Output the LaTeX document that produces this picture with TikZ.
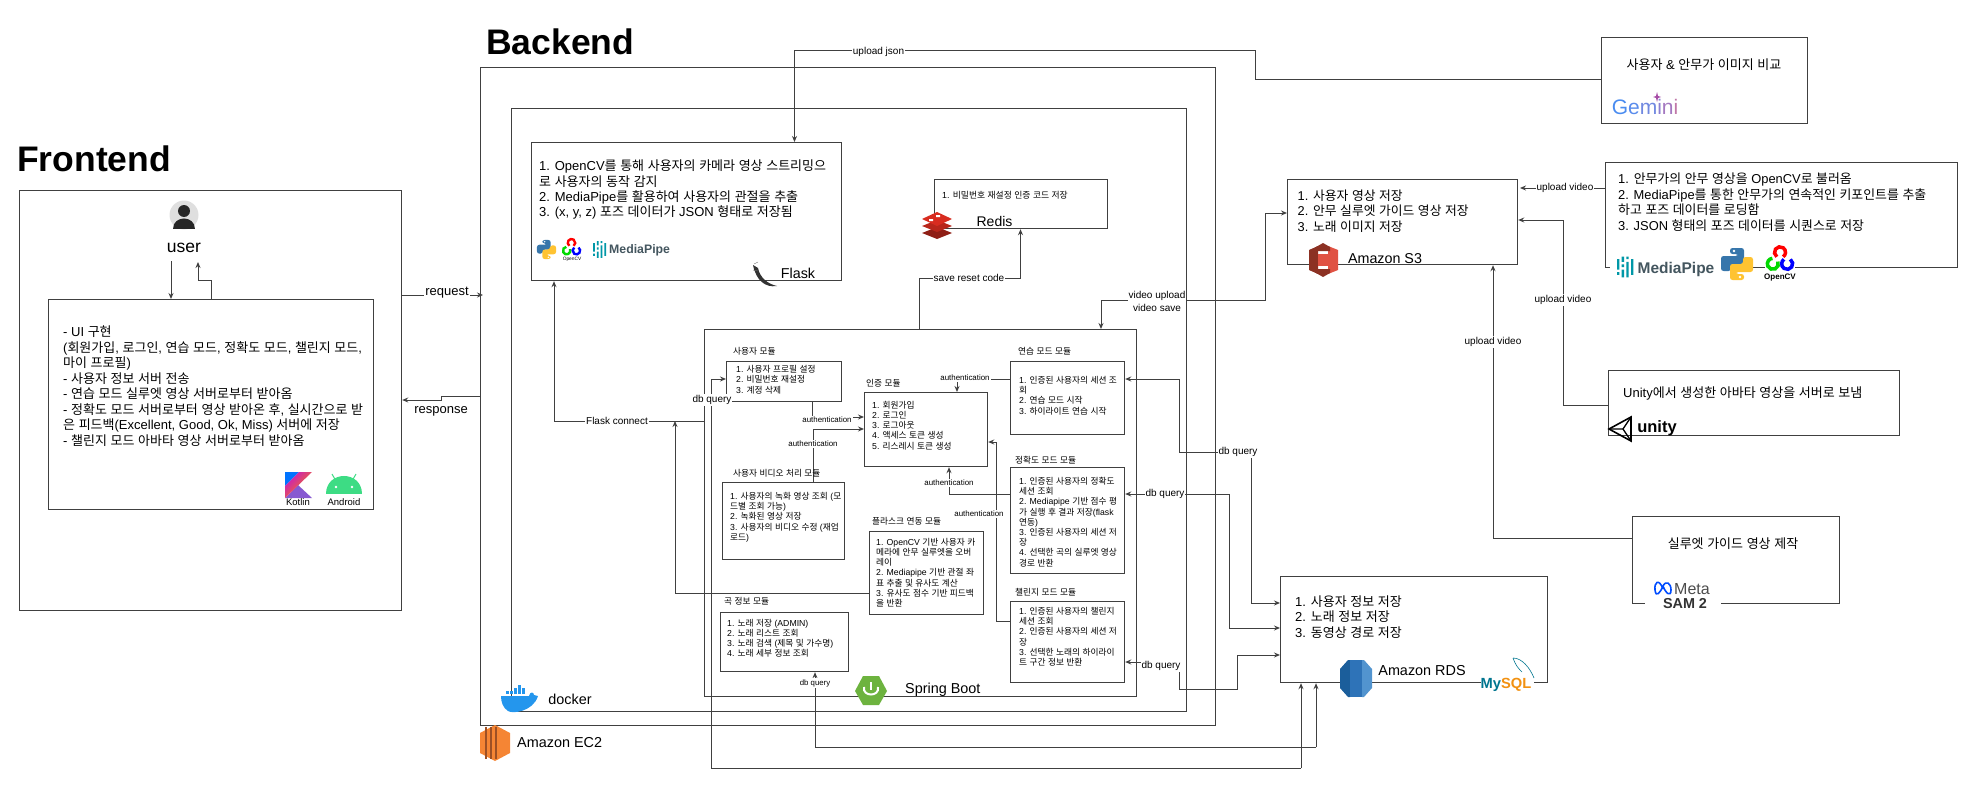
\documentclass[tikz,border=0pt]{standalone}
\usepackage{fontspec}
\usetikzlibrary{arrows.meta}
\setmainfont{Liberation Sans}
\newfontfamily\krf{Noto Sans CJK KR}
\XeTeXinterchartokenstate=1
\newXeTeXintercharclass\krc
\newcount\hgl
\hgl="AC00
\loop\XeTeXcharclass\hgl=\krc\ifnum\hgl<"D7A3 \advance\hgl by 1 \repeat
\XeTeXinterchartoks 0 \krc={\krf}
\XeTeXinterchartoks 4095 \krc={\krf}
\XeTeXinterchartoks \krc 0={\rmfamily}
\XeTeXinterchartoks \krc 4095={\rmfamily}
\definecolor{ln}{HTML}{404040}
\definecolor{pyb}{HTML}{3776AB}
\definecolor{pyy}{HTML}{FFC331}
\definecolor{mpt}{HTML}{0097A7}
\definecolor{mpg}{HTML}{44565F}
\definecolor{andr}{HTML}{3DDC84}
\definecolor{rd1}{HTML}{D82C20}
\definecolor{rd2}{HTML}{B8261B}
\definecolor{rd3}{HTML}{8F1F16}
\definecolor{dock}{HTML}{2496ED}
\definecolor{spr}{HTML}{6DB33F}
\definecolor{sa}{HTML}{E05243}
\definecolor{sb}{HTML}{8C3123}
\definecolor{eca}{HTML}{F58534}
\definecolor{ecb}{HTML}{9D5025}
\definecolor{rda}{HTML}{1B5E9B}
\definecolor{rdb}{HTML}{2E73B8}
\definecolor{rdc}{HTML}{5294CF}
\definecolor{myb}{HTML}{00758F}
\definecolor{myo}{HTML}{F29111}
\tikzset{
 x=1pt,y=-1pt,
 bx/.style={draw=ln,line width=1.2pt,fill=none,inner sep=0},
 conn/.style={draw=ln,line width=1pt},
 arr/.style={conn,-{Stealth[length=6pt,width=5pt]}},
 ml/.style 2 args={font=\fontsize{#1}{#2}\selectfont,align=left,anchor=north west,inner sep=0},
 lbl/.style={font=\fontsize{#1}{#1}\selectfont,fill=white,inner sep=1pt},
 lbl/.default=10,
 plain/.style={font=\fontsize{#1}{#1}\selectfont,inner sep=0},
 ocvw/.initial=1,
 pythonlogo/.pic={
  \fill[pyb,rounded corners=2.5] (-7,-16)--(7,-16)--(7,0)--(-6,0)--(-6,7)--(-16,7)--(-16,-8)--(1,-8)--(1,-10)--(-7,-10)--cycle;
  \fill[pyy,rounded corners=2.5] (7,16)--(-7,16)--(-7,0)--(6,0)--(6,-7)--(16,-7)--(16,8)--(-1,8)--(-1,10)--(7,10)--cycle;
  \fill[white] (-3,-13) circle[radius=1.3] (3,13) circle[radius=1.3];
 },
 opencvlogo/.pic={
  \draw[red,line width=3.2pt*\pgfkeysvalueof{/tikz/ocvw}] (0,-7)++(125:5) arc[start angle=125,end angle=415,radius=5];
  \draw[green!85!black,line width=3.2pt*\pgfkeysvalueof{/tikz/ocvw}] (-6.5,3.5)++(-25:5) arc[start angle=-25,end angle=265,radius=5];
  \draw[blue,line width=3.2pt*\pgfkeysvalueof{/tikz/ocvw}] (6.5,3.5)++(-55:5) arc[start angle=-55,end angle=235,radius=5];
 },
 mpbars/.pic={
  \fill[mpt] (0,-6) rectangle (1.8,2) (0,4) rectangle (1.8,6)
   (3.6,-8) rectangle (5.4,-4) (3.6,-2) rectangle (5.4,0) (3.6,2) rectangle (5.4,8)
   (7.2,-8) rectangle (9,-6) (7.2,-4) rectangle (9,8)
   (10.8,-6) rectangle (12.6,6);
 },
}
\begin{document}
\begin{tikzpicture}
\useasboundingbox (0,0) rectangle (1974,792);
% ---- titles
\node[plain=35.5,font=\fontsize{35.5}{36}\selectfont\bfseries,anchor=base west] (ttlF) at (17,171) {Frontend};
\node[plain=35.5,font=\fontsize{35.5}{36}\selectfont\bfseries,anchor=base west] (ttlB) at (486,55) {Backend};
% ---- frames
\node[bx,minimum width=382,minimum height=420,anchor=north west] (frontend) at (19,190) {};
\node[bx,minimum width=325,minimum height=210,anchor=north west] (ui) at (48,299) {};
\node[bx,minimum width=735,minimum height=658,anchor=north west] (ec2) at (480,67) {};
\node[bx,minimum width=675,minimum height=603,anchor=north west] (docker) at (511,108) {};
\node[bx,minimum width=432,minimum height=367,anchor=north west] (spring) at (704,329) {};
\node[bx,minimum width=309.5,minimum height=138,anchor=north west] (flask) at (531,142) {};
\node[bx,minimum width=173,minimum height=49,anchor=north west] (redis) at (934,179) {};
\node[bx,minimum width=230,minimum height=85,anchor=north west] (s3) at (1287,179) {};
\node[bx,minimum width=206,minimum height=86,anchor=north west] (gemini) at (1601,37) {};
\node[bx,minimum width=352,minimum height=105,anchor=north west] (teacher) at (1605,162) {};
\node[bx,minimum width=291,minimum height=65,anchor=north west] (unity) at (1608,370) {};
\node[bx,minimum width=207,minimum height=87,anchor=north west] (sam) at (1632,516) {};
\node[bx,minimum width=267,minimum height=106,anchor=north west] (rds) at (1280,576) {};
% ---- modules
\node[bx,minimum width=115,minimum height=40,anchor=north west] (mUser) at (726,361) {};
\node[bx,minimum width=123,minimum height=74,anchor=north west] (mAuth) at (864,392) {};
\node[bx,minimum width=122,minimum height=77,anchor=north west] (mVideo) at (722,482) {};
\node[bx,minimum width=114,minimum height=83,anchor=north west] (mFlask) at (869,531) {};
\node[bx,minimum width=128,minimum height=59,anchor=north west] (mSong) at (720,612) {};
\node[bx,minimum width=114,minimum height=73,anchor=north west] (mPrac) at (1010,361) {};
\node[bx,minimum width=114,minimum height=106,anchor=north west] (mAcc) at (1010,467) {};
\node[bx,minimum width=114,minimum height=81,anchor=north west] (mChal) at (1010,601) {};
% ---- frontend connectors
\coordinate (userBot) at (171,261);
\coordinate (userBot2) at (198,262);
\draw[arr] (userBot) -- (ui.north -| userBot);
\draw[arr] (211,299) -- (211,280) -- (198,280) -- (userBot2);
\draw[arr] (frontend.east |- 0,295) -- (483,295);
\draw[arr] (ec2.west |- 0,396) -- (441,396) -- (441,400) -- (frontend.east |- 0,400);
% ---- backend connectors
\draw[arr] (gemini.west |- 0,80) -- (1255.5,80) -- (1255.5,51) -- (794.5,51) -- (flask.north -| 794.5,0);
\draw[arr] (919.5,329) -- (919.5,278) -- (1020.5,278) -- (redis.south -| 1020.5,0);
\draw[arr] (1129,300) -- (1101,300) -- (spring.north -| 1101,0);
\draw[arr] (1186,300) -- (1265,300) -- (1265,213) -- (s3.west |- 0,213);
\draw[arr] (teacher.west |- 0,188) -- (1520,188);
\draw[arr] (unity.west |- 0,405) -- (1563,405) -- (1563,220) -- (s3.east |- 0,220);
\draw[arr] (sam.west |- 0,538) -- (1493,538) -- (s3.south -| 1493,0);
\draw[arr] (spring.west |- 0,421) -- (554,421) -- (flask.south -| 554,0);
\draw[arr] (mFlask.west |- 0,593) -- (675,593) -- (675,421);
\draw[arr] (1301,768) -- (rds.south -| 1301,0);
\draw[conn] (711,768) -- (1301,768);
\draw[arr] (711,768) -- (711,379) -- (mUser.west |- 0,379);
\draw[arr] (1316,747) -- (rds.south -| 1316,0);
\draw[conn] (1316,747) -- (815,747);
\draw[arr] (815,747) -- (mSong.south -| 815,0);
\draw[arr] (mUser.south -| 812,0) -- (812,417) -- (mAuth.west |- 0,417);
\draw[arr] (mVideo.north -| 813,0) -- (813,429) -- (mAuth.west |- 0,429);
\draw[arr] (mPrac.west |- 0,379) -- (957,379) -- (mAuth.north -| 957,0);
\draw[arr] (mAcc.west |- 0,494) -- (949,494) -- (mAuth.south -| 949,0);
\draw[arr] (mChal.west |- 0,621) -- (996,621) -- (996,442) -- (mAuth.east |- 0,442);
\draw[arr] (1251,452) -- (1179,452) -- (1179,379) -- (mPrac.east |- 0,379);
\draw[arr] (1251,452) -- (1251,603) -- (rds.west |- 0,603);
\draw[arr] (1185,494) -- (mAcc.east |- 0,494);
\draw[arr] (1185,494) -- (1229,494) -- (1229,628) -- (rds.west |- 0,628);
\draw[arr] (1150,662) -- (mChal.east |- 0,662);
\draw[arr] (1179,668) -- (1179,689) -- (1237,689) -- (1237,655) -- (rds.west |- 0,655);
% ---- connector labels
\node[lbl=13] (lReq) at (447,293) {request};
\node[lbl=13] (lRes) at (441,411) {response};
\node[lbl] (lJson) at (878.5,52) {upload json};
\node[lbl] (lReset) at (969,278) {save reset code};
\node[font=\fontsize{10}{13}\selectfont,fill=white,inner sep=1pt,align=center] (lVid) at (1157,301) {video upload\\video save};
\node[lbl] (lUp1) at (1565,188) {upload video};
\node[lbl] (lUp2) at (1563,300) {upload video};
\node[lbl] (lUp3) at (1493,342) {upload video};
\node[lbl] (lFc) at (617,421) {Flask connect};
\node[lbl=10] (lQ1) at (712,400) {db query};
\node[lbl=7.8] (lQ2) at (815,683) {db query};
\node[lbl=10] (lQ3) at (1238,452) {db query};
\node[lbl=10] (lQ4) at (1165,494) {db query};
\node[lbl=10] (lQ5) at (1161,666) {db query};
\node[lbl=7.9] (lA1) at (827,420) {authentication};
\node[lbl=7.9] (lA2) at (813,444) {authentication};
\node[lbl=7.9] (lA3) at (965,378) {authentication};
\node[lbl=7.9] (lA4) at (949,483) {authentication};
\node[lbl=7.9] (lA5) at (979,514) {authentication};
% ---- texts
\node[ml={13}{15.5}] (tUi) at (63,326) {- UI 구현\\(회원가입, 로그인, 연습 모드, 정확도 모드, 챌린지 모드,\\마이 프로필)\\- 사용자 정보 서버 전송\\- 연습 모드 실루엣 영상 서버로부터 받아옴\\- 정확도 모드 서버로부터 영상 받아온 후, 실시간으로 받\\은 피드백(Excellent, Good, Ok, Miss) 서버에 저장\\- 챌린지 모드 아바타 영상 서버로부터 받아옴};
\node[ml={13}{15.3}] (tFlask) at (539,160) {1. OpenCV를 통해 사용자의 카메라 영상 스트리밍으\\로 사용자의 동작 감지\\2. MediaPipe를 활용하여 사용자의 관절을 추출\\3. (x, y, z) 포즈 데이터가 JSON 형태로 저장됨};
\node[ml={8.8}{11}] (tRedis) at (942,191.5) {1. 비밀번호 재설정 인증 코드 저장};
\node[ml={12.8}{15.5}] (tS3) at (1297.5,189.5) {1. 사용자 영상 저장\\2. 안무 실루엣 가이드 영상 저장\\3. 노래 이미지 저장};
\node[font=\fontsize{13}{15}\selectfont,inner sep=0] (tGem) at (1704,65) {사용자 \& 안무가 이미지 비교};
\node[ml={12.9}{15.7}] (tTeach) at (1618,172.5) {1. 안무가의 안무 영상을 OpenCV로 불러옴\\2. MediaPipe를 통한 안무가의 연속적인 키포인트를 추출\\하고 포즈 데이터를 로딩함\\3. JSON 형태의 포즈 데이터를 시퀀스로 저장};
\node[ml={13}{15}] (tUnity) at (1623,386.5) {Unity에서 생성한 아바타 영상을 서버로 보냄};
\node[font=\fontsize{13}{15}\selectfont,inner sep=0] (tSam) at (1733,544) {실루엣 가이드 영상 제작};
\node[ml={13}{15.5}] (tRds) at (1295,595.5) {1. 사용자 정보 저장\\2. 노래 정보 저장\\3. 동영상 경로 저장};
% module titles
\node[ml={8.7}{11}] (hUser) at (733,347) {사용자 모듈};
\node[ml={8.7}{11}] (hAuth) at (866,379) {인증 모듈};
\node[ml={8.7}{11}] (hVideo) at (733,469) {사용자 비디오 처리 모듈};
\node[ml={8.7}{11}] (hFlask) at (872,517) {플라스크 연동 모듈};
\node[ml={8.7}{11}] (hSong) at (724,597) {곡 정보 모듈};
\node[ml={8.7}{11}] (hPrac) at (1018,347) {연습 모드 모듈};
\node[ml={8.7}{11}] (hAcc) at (1015,456) {정확도 모드 모듈};
\node[ml={8.7}{11}] (hChal) at (1015,588) {챌린지 모드 모듈};
% module bodies
\node[ml={8.7}{10.4}] (bUser) at (736,365) {1. 사용자 프로필 설정\\2. 비밀번호 재설정\\3. 계정 삭제};
\node[ml={8.7}{10.2}] (bAuth) at (872,401) {1. 회원가입\\2. 로그인\\3. 로그아웃\\4. 액세스 토큰 생성\\5. 리스레시 토큰 생성};
\node[ml={8.7}{10.3}] (bVideo) at (730,492) {1. 사용자의 녹화 영상 조회 (모\\드별 조회 가능)\\2. 녹화된 영상 저장\\3. 사용자의 비디오 수정 (재업\\로드)};
\node[ml={8.7}{10.2}] (bFlask) at (876,538) {1. OpenCV 기반 사용자 카\\메라에 안무 실루엣을 오버\\레이\\2. Mediapipe 기반 관절 좌\\표 추출 및 유사도 계산\\3. 유사도 점수 기반 피드백\\을 반환};
\node[ml={8.7}{10}] (bSong) at (727,619) {1. 노래 저장 (ADMIN)\\2. 노래 리스트 조회\\3. 노래 검색 (제목 및 가수명)\\4. 노래 세부 정보 조회};
\node[ml={8.7}{10.3}] (bPrac) at (1019,376) {1. 인증된 사용자의 세션 조\\회\\2. 연습 모드 시작\\3. 하이라이트 연습 시작};
\node[ml={8.7}{10.2}] (bAcc) at (1019,477) {1. 인증된 사용자의 정확도\\세션 조회\\2. Mediapipe 기반 점수 평\\가 실행 후 결과 저장(flask\\연동)\\3. 인증된 사용자의 세션 저\\장\\4. 선택한 곡의 실루엣 영상\\경로 반환};
\node[ml={8.7}{10.2}] (bChal) at (1019,607) {1. 인증된 사용자의 챌린지\\세션 조회\\2. 인증된 사용자의 세션 저\\장\\3. 선택한 노래의 하이라이\\트 구간 정보 반환};
% ---- service captions
\node[plain=17.5] (lUser) at (184,248) {user};
\node[plain=14.3] (lFlask) at (798,273) {Flask};
\node[plain=14] (lRedis) at (994.5,221) {Redis};
\node[plain=14.3] (lS3) at (1385,259) {Amazon S3};
\node[plain=14.4] (lRds) at (1422,671) {Amazon RDS};
\node[plain=14.4] (lDocker) at (570,699) {docker};
\node[plain=14.4,anchor=west] (lEc2) at (517,743) {Amazon EC2};
\node[plain=14.4,anchor=west] (lSpring) at (905,690) {Spring Boot};
% ---- user icon
\fill[gray!25] (184,215) circle[radius=14.5];
\fill[black!85] (184,211) circle[radius=6];
\fill[black!85] (173,229) .. controls (173,215) and (195,215) .. (195,229) -- cycle;
% ---- kotlin
\fill[blue!55!cyan] (285,472) -- (299,472) -- (285,486) -- cycle;
\fill[violet!55!blue!65!white] (298,485) -- (312,498) -- (285,498) -- cycle;
\shade[left color=magenta!50!violet!90!white,right color=orange,shading angle=45] (299,472) -- (312,472) -- (285,498) -- (285,486) -- cycle;
\node[plain=9.5] (lKot) at (298,502) {Kotlin};
% ---- android
\fill[andr] (326,494) .. controls (326,470) and (362,470) .. (362,494) -- cycle;
\draw[andr,line width=1pt] (332,474) -- (336,481) (356,474) -- (352,481);
\fill[white] (336,487) circle[radius=1.3] (352,487) circle[radius=1.3];
\node[plain=9.5] (lAnd) at (344,502) {Android};
% ---- flask logos
\pic[scale=0.6] at (546.5,249.5) {pythonlogo};
\pic[scale=0.75,ocvw=0.75] at (571.5,248) {opencvlogo};
\node[plain=4.8] (lCv1) at (572,259) {OpenCV};
\pic[scale=1.05] at (593,249.5) {mpbars};
\node[plain=12.3,text=mpg,font=\fontsize{12.3}{14}\selectfont\bfseries,anchor=west] (lMp1) at (609,250) {MediaPipe};
% flask horn
\fill[black!80] (753,265) .. controls (756,280) and (765,288) .. (777,286) .. controls (768,284) and (760,278) .. (758,268) -- cycle;
\draw[black!60] (754,264) -- (758,262) (753,270) -- (758,271);
% ---- redis
\fill[rd3] (922,233) -- (937,227) -- (952,233) -- (937,239) -- cycle;
\fill[rd2] (922,226) -- (937,220) -- (952,226) -- (937,232) -- cycle;
\fill[rd1] (922,219) -- (937,212) -- (952,219) -- (937,226) -- cycle;
\fill[white] (936,215) rectangle (940,217) (929,219) rectangle (933,221);
% ---- docker
\fill[dock] (501,696) -- (529,696) .. controls (530,691) and (534,692) .. (534,695) -- (538,696) .. controls (533,712) and (512,714) .. (508,711) .. controls (503,708) and (501,702) .. (501,696) -- cycle;
\foreach \xx/\yy in {506/691,510/691,514/691,518/691,522/691,514/688,518/688,522/688,518/685} {\fill[dock] (\xx,\yy) rectangle ++(3.2,2.6);}
% ---- spring
\fill[spr] (855,691) -- (863,676) -- (879,676) -- (887,691) -- (879,705) -- (863,705) -- cycle;
\draw[white,line width=2pt] (864,687) .. controls (862,697) and (880,697) .. (878,687);
\draw[white,line width=2pt] (871,682) -- (871,690);
% ---- s3
\fill[sb] (1309,250) -- (1318,246) -- (1318,274) -- (1309,270) -- cycle;
\fill[sa] (1338,250) -- (1328,246) -- (1328,274) -- (1338,270) -- cycle;
\fill[sb] (1323,243) -- (1330,247) -- (1330,251) -- (1316,251) -- (1316,247) -- cycle;
\fill[sb] (1323,277) -- (1330,273) -- (1330,269) -- (1316,269) -- (1316,273) -- cycle;
\fill[sa] (1318,254) rectangle (1328,266);
% ---- ec2
\fill[eca] (480,733) -- (495,725) -- (510,733) -- (510,753) -- (495,761) -- (480,753) -- cycle;
\foreach \xx in {485,490,495} {\fill[ecb] (\xx,727) rectangle ++(1.6,32);}
% ---- rds
\fill[rda] (1340,669) -- (1348,660) -- (1350,660) -- (1350,697) -- (1348,697) -- (1340,688) -- cycle;
\fill[rdb] (1350,660) rectangle (1362,697);
\fill[rdc] (1362,660) -- (1364,660) -- (1372,669) -- (1372,688) -- (1364,697) -- (1362,697) -- cycle;
% ---- mysql
\fill[white] (1481,676) rectangle (1534,696);
\node[plain=14.7,font=\fontsize{14.7}{16}\selectfont\bfseries,anchor=center] (lMy) at (1506,685) {\textcolor{myb}{My}\textcolor{myo}{SQL}};
\draw[myb,line width=.6pt] (1513,658) .. controls (1522,658) and (1530,668) .. (1534,678) (1513,658) .. controls (1516,666) and (1518,668) .. (1522,672);
% ---- gemini
\node[plain=21,anchor=center] (lGem) at (1645,107) {\textcolor[HTML]{4A8CF0}{G}\textcolor[HTML]{5A8CEC}{e}\textcolor[HTML]{7088E0}{m}\textcolor[HTML]{8C80D0}{i}\textcolor[HTML]{A478C0}{n}\textcolor[HTML]{C078A8}{i}};
\fill[violet!70!white] (1657,92) -- (1658,96) -- (1661,97) -- (1658,98) -- (1657,102) -- (1656,98) -- (1653,97) -- (1656,96) -- cycle;
% ---- teacher logos
\fill[white] (1610,255) rectangle (1753,285);
\pic[scale=1.3] at (1617,267) {mpbars};
\node[plain=15.5,text=mpg,font=\fontsize{15.5}{17}\selectfont\bfseries,anchor=center] (lMp2) at (1676,269) {MediaPipe};
\pic at (1737,264) {pythonlogo};
\fill[white] (1765,245) rectangle (1795,284);
\pic[scale=1.1,ocvw=1.1] at (1780,260) {opencvlogo};
\node[plain=8,font=\fontsize{8}{9}\selectfont\bfseries] (lCv2) at (1780,278) {OpenCV};
% ---- unity
\draw[black,line width=1.6pt,line join=miter] (1609,429) -- (1631,417) -- (1631,441) -- cycle;
\draw[black,line width=1.3pt] (1623,429) -- (1609,429) (1623,429) -- (1631,417) (1623,429) -- (1631,441);
\node[plain=16.5,font=\fontsize{16.5}{18}\selectfont\bfseries,anchor=center] (lUni) at (1657,428) {unity};
% ---- meta / sam
\fill[white] (1645,598) rectangle (1721,610);
\draw[blue!70!cyan,line width=1.6pt] (1663,589) .. controls (1659,578) and (1654,582) .. (1655,590) .. controls (1656,598) and (1660,593) .. (1663,586) .. controls (1666,580) and (1671,583) .. (1671,590) .. controls (1671,597) and (1666,594) .. (1663,586);
\node[plain=16,text=black!70,anchor=center] (lMeta) at (1692,589) {Meta};
\node[plain=14.4,font=\fontsize{14.4}{16}\selectfont\bfseries,text=black!80] (lSam) at (1685,604) {SAM 2};
\end{tikzpicture}
\end{document}
